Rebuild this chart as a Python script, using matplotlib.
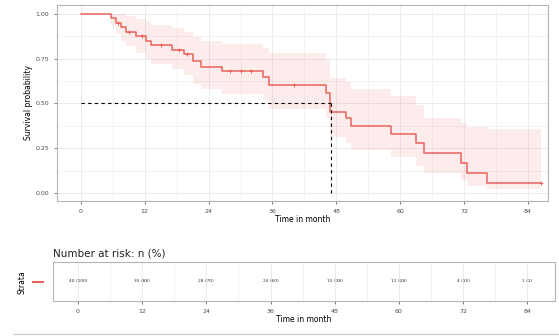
import numpy as np
import matplotlib.pyplot as plt
from matplotlib.lines import Line2D

# Kaplan-Meier step estimates
times = [0, 5.6, 6.5, 7.5, 8.5, 10.4, 12.3, 13.2, 17.2, 19.4, 21.0, 22.5, 26.5,
         34.3, 35.3, 46.0, 46.8, 49.8, 50.7, 58.2, 63.0, 64.5, 71.5, 72.6, 76.3]
surv = [1.00, 0.975, 0.95, 0.925, 0.90, 0.875, 0.85, 0.825, 0.80, 0.775, 0.735, 0.705, 0.68,
        0.65, 0.605, 0.56, 0.455, 0.42, 0.375, 0.33, 0.28, 0.224, 0.168, 0.112, 0.056]
lower = [1.00, 0.93, 0.89, 0.85, 0.82, 0.78, 0.75, 0.72, 0.69, 0.66, 0.61, 0.58, 0.55,
         0.52, 0.47, 0.42, 0.31, 0.28, 0.24, 0.20, 0.15, 0.11, 0.07, 0.04, 0.02]
upper = [1.00, 1.00, 1.00, 1.00, 0.99, 0.97, 0.96, 0.94, 0.92, 0.90, 0.87, 0.85, 0.83,
         0.81, 0.78, 0.74, 0.64, 0.62, 0.58, 0.54, 0.49, 0.42, 0.39, 0.37, 0.36]
end_time = 86.5
censor_times = [7.0, 9.0, 11.5, 15.0, 18.5, 20.0, 28.0, 30.0, 32.0, 40.0, 86.5]
median_time = 47.0

risk_times = [0, 12, 24, 36, 48, 60, 72, 84]
risk_labels = ['40 (100)', '35 (88)', '28 (70)', '24 (60)', '15 (38)', '11 (28)', '4 (10)', '1 (2)']

xticks = [0, 12, 24, 36, 48, 60, 72, 84]
yticks = [0.00, 0.25, 0.50, 0.75, 1.00]

red = '#E8635B'
grid_col = '#EBEBEB'
border_col = '#B5B5B5'
text_col = '#4D4D4D'

t_ext = times + [end_time]
s_ext = surv + [surv[-1]]
lo_ext = lower + [lower[-1]]
hi_ext = upper + [upper[-1]]


def surv_at(t):
    idx = np.searchsorted(times, t, side='right') - 1
    return surv[idx]


fig = plt.figure(figsize=(5.59, 3.36), dpi=100)

# main survival panel
ax = fig.add_axes([57 / 559, 1 - 201 / 336, (548 - 57) / 559, (201 - 5) / 336])
ax.set_xlim(-4.5, 87.8)
ax.set_ylim(-0.045, 1.05)
ax.fill_between(t_ext, lo_ext, hi_ext, step='post', color=red, alpha=0.12, lw=0)
ax.step(t_ext, s_ext, where='post', color=red, lw=1.1)
ax.plot(censor_times, [surv_at(t) for t in censor_times], '+', color=red, ms=3, mew=0.7)
ax.plot([0, median_time], [0.5, 0.5], ls='--', color='black', lw=0.8, dashes=(3, 3))
ax.plot([median_time, median_time], [0, 0.5], ls='--', color='black', lw=0.8, dashes=(3, 3))

ax.set_xticks(xticks)
ax.set_xticks([6, 18, 30, 42, 54, 66, 78], minor=True)
ax.set_yticks(yticks)
ax.set_yticks([0.125, 0.375, 0.625, 0.875], minor=True)
ax.set_yticklabels(['0.00', '0.25', '0.50', '0.75', '1.00'])
ax.grid(True, which='major', color=grid_col, lw=0.7)
ax.grid(True, which='minor', color=grid_col, lw=0.4)
ax.set_axisbelow(True)
for sp in ax.spines.values():
    sp.set_color(border_col)
    sp.set_linewidth(0.8)
ax.tick_params(which='major', labelsize=4.5, colors=text_col, length=2, width=0.5)
ax.tick_params(which='minor', length=0)
ax.set_xlabel('Time in month', fontsize=5.5, labelpad=1)
ax.set_ylabel('Survival probability', fontsize=5.5, labelpad=2)

# risk table panel
rax = fig.add_axes([53 / 559, 1 - 301 / 336, (555 - 53) / 559, (301 - 262) / 336])
rax.set_xlim(-4.68, 89.2)
rax.set_ylim(0, 1)
for t, lab in zip(risk_times, risk_labels):
    rax.text(t, 0.5, lab, ha='center', va='center', fontsize=3.2, color='#333333')
rax.set_xticks(xticks)
rax.set_xticks([6, 18, 30, 42, 54, 66, 78], minor=True)
rax.set_yticks([0.5])
rax.set_yticklabels([''])
rax.grid(True, which='major', axis='x', color=grid_col, lw=0.7)
rax.grid(True, which='minor', axis='x', color=grid_col, lw=0.4)
rax.set_axisbelow(True)
for sp in rax.spines.values():
    sp.set_color(border_col)
    sp.set_linewidth(0.8)
rax.tick_params(which='major', labelsize=4.5, colors=text_col, length=2, width=0.5)
rax.tick_params(which='minor', length=0)
rax.tick_params(axis='y', length=0)
rax.set_xlabel('Time in month', fontsize=5.5, labelpad=1)
rax.set_title('Number at risk: n (%)', fontsize=7.5, loc='left', x=0.0, pad=4, color='#222222')

fig.text(22 / 559, 1 - 282 / 336, 'Strata', rotation=90, fontsize=5.5, ha='center', va='center')
fig.add_artist(Line2D([33 / 559, 43 / 559], [1 - 282 / 336, 1 - 282 / 336], color=red, lw=1.5))
fig.add_artist(Line2D([13 / 559, 1.0], [1 - 334 / 336, 1 - 334 / 336], color='#CCCCCC', lw=0.8))

fig.savefig('out.png', dpi=100)
